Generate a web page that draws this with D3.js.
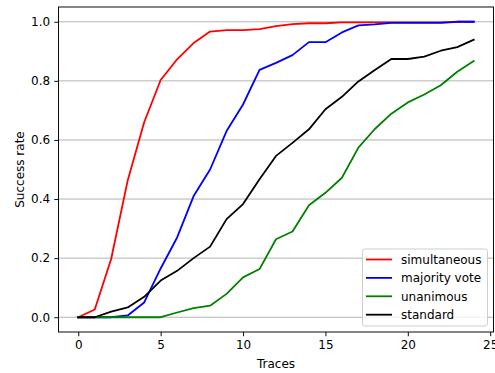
<!DOCTYPE html>
<html>
<head>
<meta charset="utf-8">
<script src="https://cdn.jsdelivr.net/npm/d3@7"></script>
<style>
  body { margin: 0; background: #fff; }
  svg text { font-family: "DejaVu Sans", sans-serif; }
</style>
</head>
<body>
<div id="chart"></div>
<script>
const traces = d3.range(0, 25)

const simultaneous = [0, 0.026, 0.198, 0.463, 0.66, 0.803, 0.873, 0.928, 0.967, 0.972, 0.972, 0.975, 0.985, 0.992, 0.995, 0.995, 0.998, 0.998, 0.998, 0.998, 0.998, 0.998, 0.998, 1.0, 1.0]
const majorityVote = [0, 0, 0, 0.006, 0.05, 0.165, 0.27, 0.41, 0.5, 0.63, 0.72, 0.837, 0.861, 0.887, 0.931, 0.931, 0.964, 0.988, 0.991, 0.996, 0.996, 0.996, 0.996, 1.0, 1.0]
const unanimous = [0, 0, 0, 0, 0, 0, 0.016, 0.031, 0.039, 0.079, 0.135, 0.163, 0.264, 0.29, 0.379, 0.421, 0.472, 0.574, 0.637, 0.689, 0.727, 0.754, 0.785, 0.831, 0.867]
const standard = [0, 0, 0.019, 0.033, 0.069, 0.124, 0.157, 0.2, 0.239, 0.332, 0.383, 0.467, 0.546, 0.59, 0.636, 0.704, 0.746, 0.798, 0.837, 0.874, 0.874, 0.882, 0.902, 0.914, 0.939]

const seriesNames = ["simultaneous", "majority vote", "unanimous", "standard"]
const seriesColors = ["#ff0000", "#0000ff", "#008000", "#000000"]
const seriesValues = [simultaneous, majorityVote, unanimous, standard]

const xTicks = [0, 5, 10, 15, 20, 25]
const yTicks = [0, 0.2, 0.4, 0.6, 0.8, 1.0]

const width = 495
const height = 373
const margin = { top: 7, right: 1.5, bottom: 41, left: 58.5 }

const svg = d3.select("#chart")
  .append("svg")
  .attr("width", width)
  .attr("height", height)

const x = d3.scaleLinear()
  .domain([-1.2, 25.2])
  .range([margin.left, width - margin.right])

const y = d3.scaleLinear()
  .domain([-0.05, 1.05])
  .range([height - margin.bottom, margin.top])

// horizontal grid
svg.append("g")
  .selectAll("line")
  .data(yTicks)
  .join("line")
  .attr("x1", x.range()[0])
  .attr("x2", x.range()[1])
  .attr("y1", d => y(d))
  .attr("y2", d => y(d))
  .attr("stroke", "#b0b0b0")
  .attr("stroke-width", 0.96)

const xAxis = svg.append("g")
  .attr("transform", `translate(0,${y.range()[0]})`)
  .call(d3.axisBottom(x).tickValues(xTicks).tickFormat(d3.format("d")).tickSize(4.2).tickPadding(4.2))

const yAxis = svg.append("g")
  .attr("transform", `translate(${x.range()[0]},0)`)
  .call(d3.axisLeft(y).tickValues(yTicks).tickFormat(d3.format(".1f")).tickSize(4.2).tickPadding(4.2))

for (const ax of [xAxis, yAxis]) {
  ax.select(".domain").remove()
  ax.selectAll(".tick line").attr("stroke", "#000").attr("stroke-width", 0.96)
  ax.selectAll(".tick text")
    .attr("fill", "#000")
    .style("font-size", "12px")
    .style("font-family", "DejaVu Sans, sans-serif")
}

const line = d3.line()
  .x((d, i) => x(traces[i]))
  .y(d => y(d))

svg.append("g")
  .selectAll("path")
  .data(seriesValues)
  .join("path")
  .attr("d", d => line(d))
  .attr("fill", "none")
  .attr("stroke", (d, i) => seriesColors[i])
  .attr("stroke-width", 1.8)
  .attr("stroke-linejoin", "round")
  .attr("stroke-linecap", "square")

// frame
svg.append("rect")
  .attr("x", x.range()[0])
  .attr("y", y.range()[1])
  .attr("width", x.range()[1] - x.range()[0])
  .attr("height", y.range()[0] - y.range()[1])
  .attr("fill", "none")
  .attr("stroke", "#000")
  .attr("stroke-width", 0.96)

svg.append("text")
  .attr("x", (x.range()[0] + x.range()[1]) / 2)
  .attr("y", 368)
  .attr("text-anchor", "middle")
  .style("font-size", "12px")
  .text("Traces")

svg.append("text")
  .attr("transform", `translate(24,${(y.range()[0] + y.range()[1]) / 2}) rotate(-90)`)
  .attr("text-anchor", "middle")
  .style("font-size", "12px")
  .text("Success rate")

// legend
const legend = svg.append("g").attr("transform", "translate(362.5,249)")

legend.append("rect")
  .attr("width", 125)
  .attr("height", 77)
  .attr("rx", 2.4)
  .attr("fill", "#fff")
  .attr("fill-opacity", 0.8)
  .attr("stroke", "#cccccc")
  .attr("stroke-width", 0.96)

const entry = legend.selectAll("g")
  .data(seriesNames)
  .join("g")
  .attr("transform", (d, i) => `translate(0,${10.5 + i * 18.4})`)

entry.append("line")
  .attr("x1", 3.5)
  .attr("x2", 29.5)
  .attr("stroke", (d, i) => seriesColors[i])
  .attr("stroke-width", 1.8)

entry.append("text")
  .attr("x", 38.5)
  .attr("y", 4.3)
  .style("font-size", "12px")
  .text(d => d)
</script>
</body>
</html>
